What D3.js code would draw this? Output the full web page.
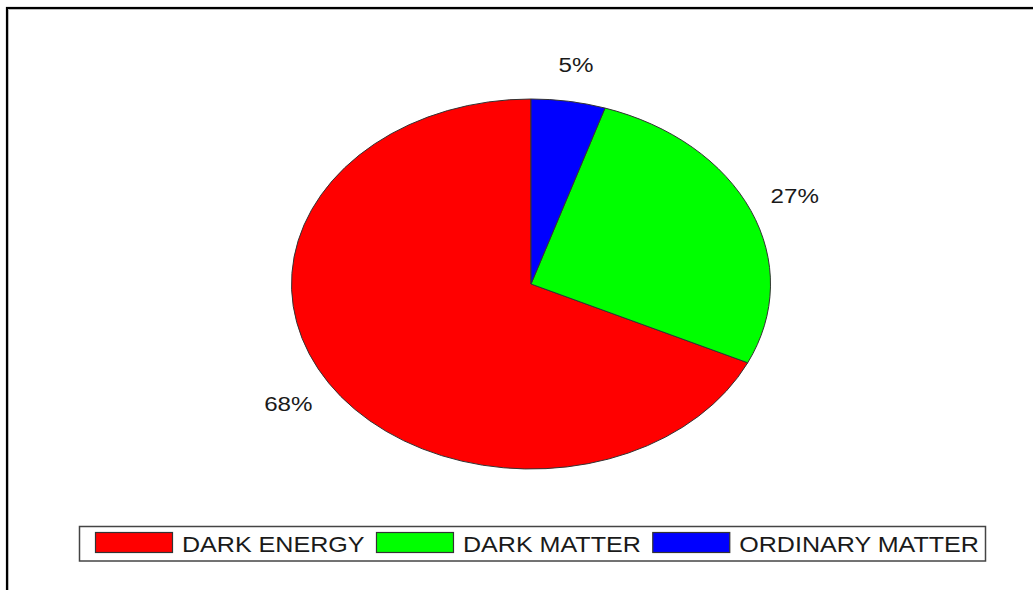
<!DOCTYPE html>
<html>
<head>
<meta charset="utf-8">
<script src="https://cdn.jsdelivr.net/npm/d3@7"></script>
<style>
  body { margin: 0; background: #fff; }
  text { font-family: "Liberation Sans", Arial, sans-serif; fill: #1a1a1a; }
</style>
</head>
<body>
<svg id="chart" width="1033" height="590"></svg>
<script>
// data, legend order
var categories = ["DARK ENERGY", "DARK MATTER", "ORDINARY MATTER"];
var values = [68, 27, 5];
var labels = ["68%", "27%", "5%"];
var colors = ["#ff0000", "#00ff00", "#0000ff"];

var svg = d3.select("#chart");
var W = 1033, H = 590;

// outer frame (runs off the right and bottom edge)
svg.append("rect")
    .attr("x", 7).attr("y", 8)
    .attr("width", W + 20).attr("height", H + 20)
    .attr("fill", "none")
    .attr("stroke", "#000")
    .attr("stroke-width", 2.2);
svg.append("path")
    .attr("d", "M8.5," + (H + 5) + "V9.5H" + (W + 5))
    .attr("fill", "none")
    .attr("stroke", "#bbb")
    .attr("stroke-width", 1);

// pie is drawn as a circle then stretched into an ellipse
var cx = 531, cy = 284, rx = 239.5, ry = 185, r = 100;

var data = categories.map(function (c, i) {
    return {name: c, value: values[i], label: labels[i], color: colors[i]};
});

var pie = d3.pie()
    .sort(null)
    .value(function (d) { return d.value; })
    .startAngle(0)
    .endAngle(-2 * Math.PI);

var arcs = pie(data);
var arc = d3.arc().innerRadius(0).outerRadius(r);
var labelArc = d3.arc().innerRadius(r * 1.2).outerRadius(r * 1.2);

var g = svg.append("g")
    .attr("transform", "translate(" + cx + "," + cy + ") scale(" + (rx / r) + "," + (ry / r) + ")");

g.selectAll("path.slice")
    .data(arcs)
  .enter().append("path")
    .attr("class", "slice")
    .attr("d", arc)
    .attr("fill", function (d) { return d.data.color; })
    .attr("stroke", "#333")
    .attr("stroke-width", 1)
    .attr("vector-effect", "non-scaling-stroke");

svg.selectAll("text.pct")
    .data(arcs)
  .enter().append("text")
    .attr("class", "pct")
    .attr("transform", function (d) {
        var p = labelArc.centroid(d);
        return "translate(" + (cx + p[0] * rx / r) + "," + (cy + p[1] * ry / r) + ") scale(1.15,1)";
    })
    .attr("text-anchor", "middle")
    .attr("dy", "0.36em")
    .style("font-size", "21px")
    .text(function (d) { return d.data.label; });

// legend
var lgX = 79.5, lgY = 526.5, lgH = 34.5, lgW = 906;
var sx = 1.14, swW = 77, swH = 20;
svg.append("rect")
    .attr("x", lgX).attr("y", lgY)
    .attr("width", lgW).attr("height", lgH)
    .attr("fill", "#fff")
    .attr("stroke", "#444")
    .attr("stroke-width", 1.5);

var x = 95.5;
data.forEach(function (d, i) {
    svg.append("rect")
        .attr("x", x).attr("y", 532.5)
        .attr("width", swW).attr("height", swH)
        .attr("fill", d.color)
        .attr("stroke", "#333")
        .attr("stroke-width", 1.2);
    var t = svg.append("text")
        .attr("transform", "translate(" + (x + swW + 9.5) + ",552) scale(" + sx + ",1)")
        .style("font-size", "22px")
        .text(d.name);
    var tw = t.node().getComputedTextLength() * sx;
    x += swW + 9.5 + tw + 12;
});
</script>
</body>
</html>
